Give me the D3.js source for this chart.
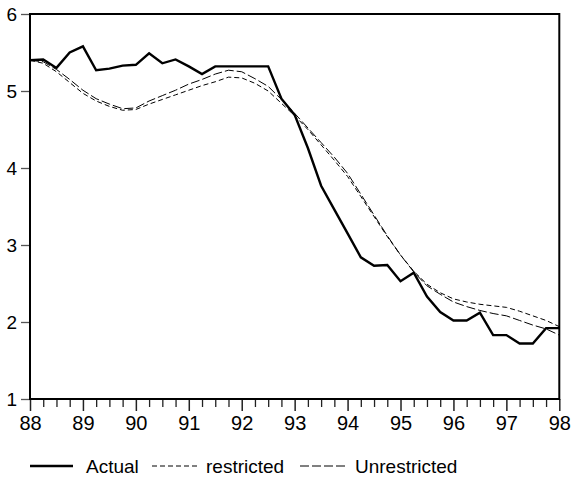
<!DOCTYPE html>
<html>
<head>
<meta charset="utf-8">
<script src="https://cdn.jsdelivr.net/npm/d3@7/dist/d3.min.js"></script>
<style>
  html, body { margin: 0; padding: 0; background: #fff; }
  svg { display: block; font-family: "Liberation Sans", Arial, sans-serif; }
</style>
</head>
<body>
<svg id="chart" width="573" height="481"></svg>
<script>
// Quarterly periods, 1988Q1 - 1998Q1
const periods = [
  "88Q1","88Q2","88Q3","88Q4","89Q1","89Q2","89Q3","89Q4",
  "90Q1","90Q2","90Q3","90Q4","91Q1","91Q2","91Q3","91Q4",
  "92Q1","92Q2","92Q3","92Q4","93Q1","93Q2","93Q3","93Q4",
  "94Q1","94Q2","94Q3","94Q4","95Q1","95Q2","95Q3","95Q4",
  "96Q1","96Q2","96Q3","96Q4","97Q1","97Q2","97Q3","97Q4",
  "98Q1"
];

const actual = [
  5.40, 5.41, 5.30, 5.50, 5.58, 5.27, 5.29, 5.33,
  5.34, 5.49, 5.36, 5.41, 5.32, 5.22, 5.32, 5.32,
  5.32, 5.32, 5.32, 4.90, 4.69, 4.26, 3.77, 3.46,
  3.15, 2.84, 2.73, 2.74, 2.53, 2.64, 2.33, 2.13,
  2.02, 2.02, 2.12, 1.83, 1.83, 1.72, 1.72, 1.92,
  1.92
];

const restricted = [
  5.40, 5.36, 5.25, 5.11, 4.97, 4.87, 4.80, 4.75,
  4.76, 4.83, 4.89, 4.95, 5.01, 5.07, 5.12, 5.18,
  5.17, 5.10, 5.00, 4.84, 4.68, 4.50, 4.30, 4.10,
  3.89, 3.63, 3.37, 3.11, 2.87, 2.66, 2.49, 2.38,
  2.30, 2.26, 2.23, 2.21, 2.19, 2.14, 2.08, 2.02,
  1.94
];

const unrestricted = [
  5.40, 5.38, 5.28, 5.15, 5.01, 4.90, 4.83, 4.77,
  4.78, 4.87, 4.94, 5.01, 5.09, 5.15, 5.22, 5.27,
  5.25, 5.16, 5.06, 4.89, 4.71, 4.52, 4.33, 4.14,
  3.93, 3.66, 3.39, 3.12, 2.87, 2.65, 2.47, 2.36,
  2.26, 2.20, 2.15, 2.11, 2.08, 2.02, 1.96, 1.91,
  1.83
];

const yearTicks = [88, 89, 90, 91, 92, 93, 94, 95, 96, 97, 98];
const yTicks = [1, 2, 3, 4, 5, 6];

// "93Q2" -> 93.25
const toTime = p => +p.slice(0, 2) + (+p.slice(3) - 1) / 4;

const svg = d3.select("#chart");
const plotLeft = 30, plotRight = 559.3, plotTop = 14, plotBottom = 399;

const x = d3.scaleLinear().domain([88, 98]).range([plotLeft, plotRight]);
const y = d3.scaleLinear().domain([1, 6]).range([plotBottom, plotTop]);

// Quarter minor ticks
const minorAxis = d3.axisBottom(x)
  .tickValues(periods.map(toTime).filter(t => !yearTicks.includes(t)))
  .tickSize(8)
  .tickFormat("");
svg.append("g")
  .attr("transform", `translate(0,${plotBottom})`)
  .call(minorAxis)
  .call(g => g.select(".domain").remove())
  .call(g => g.selectAll("line").attr("stroke", "#222").attr("stroke-width", 1.3));

// Year major ticks with labels
const xAxis = d3.axisBottom(x)
  .tickValues(yearTicks)
  .tickSize(12)
  .tickPadding(5)
  .tickFormat(d => String(d));
svg.append("g")
  .attr("transform", `translate(0,${plotBottom})`)
  .call(xAxis)
  .call(g => g.select(".domain").remove())
  .call(g => g.selectAll("line").attr("stroke", "#222").attr("stroke-width", 1.5))
  .call(g => g.selectAll("text")
    .attr("fill", "#000")
    .style("font-size", "20px")
    .style("font-family", "'Liberation Sans', Arial, sans-serif"));

const yAxis = d3.axisLeft(y)
  .tickValues(yTicks)
  .tickSize(9)
  .tickPadding(4)
  .tickFormat(d => String(d));
svg.append("g")
  .attr("transform", `translate(${plotLeft},0)`)
  .call(yAxis)
  .call(g => g.select(".domain").remove())
  .call(g => g.selectAll("line").attr("stroke", "#555").attr("stroke-width", 1.3))
  .call(g => g.selectAll("text")
    .attr("fill", "#000")
    .style("font-size", "19px")
    .style("font-family", "'Liberation Sans', Arial, sans-serif"));

// Plot frame
svg.append("rect")
  .attr("x", plotLeft).attr("y", plotTop)
  .attr("width", plotRight - plotLeft).attr("height", plotBottom - plotTop)
  .attr("fill", "none")
  .attr("stroke", "#000")
  .attr("stroke-width", 2);

const line = d3.line()
  .x((d, i) => x(toTime(periods[i])))
  .y(d => y(d));

const series = [
  { name: "Actual", values: actual, width: 2.4, dash: null },
  { name: "restricted", values: restricted, width: 1, dash: "5,3" },
  { name: "Unrestricted", values: unrestricted, width: 1, dash: "9,3" }
];

svg.append("g").selectAll("path")
  .data(series.slice().reverse())
  .join("path")
  .attr("d", s => line(s.values))
  .attr("fill", "none")
  .attr("stroke", "#000")
  .attr("stroke-width", s => s.width)
  .attr("stroke-dasharray", s => s.dash)
  .attr("stroke-linejoin", "miter");

// Legend
const legendItems = [
  { s: series[0], x0: 30, x1: 73, tx: 86 },
  { s: series[1], x0: 152, x1: 200, tx: 206 },
  { s: series[2], x0: 300, x1: 348, tx: 355 }
];
const legend = svg.append("g");
const ly = 466;
legendItems.forEach(it => {
  legend.append("line")
    .attr("x1", it.x0).attr("x2", it.x1)
    .attr("y1", ly).attr("y2", ly)
    .attr("stroke", "#000")
    .attr("stroke-width", it.s.width)
    .attr("stroke-dasharray", it.s.dash);
  legend.append("text")
    .attr("x", it.tx).attr("y", ly)
    .attr("dy", "0.35em")
    .style("font-size", "19px")
    .attr("fill", "#000")
    .text(it.s.name);
});
</script>
</body>
</html>
